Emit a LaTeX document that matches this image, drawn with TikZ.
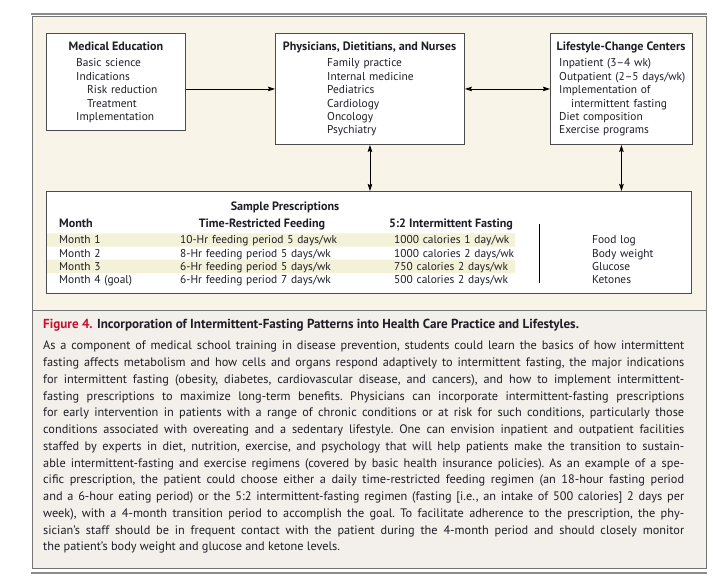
\documentclass[tikz,border=0pt]{standalone}
\usepackage{fontspec}
\setmainfont{PT Sans}
\usetikzlibrary{arrows.meta,positioning,calc}
\definecolor{framegray}{HTML}{747474}
\definecolor{cream}{HTML}{F8F5E8}
\definecolor{capfill}{HTML}{F3EFEA}
\definecolor{band}{HTML}{F3F1D8}
\definecolor{nejmred}{HTML}{C8102E}
\definecolor{ink}{HTML}{1E1E26}

\begin{document}
\begin{tikzpicture}[x=1pt, y=-1pt, font=\fontsize{11.4}{13.4}\selectfont, text=ink,
  >={Stealth[length=7pt, width=4.5pt, inset=1pt]},
  box/.style={draw=black!70, line width=0.9pt, fill=white, inner sep=0pt, anchor=north west},
  hd/.style={font=\fontsize{12.1}{13.4}\selectfont\bfseries, anchor=base, inner sep=0pt},
  lst/.style={align=left, text width=150, anchor=base west, inner sep=0pt},
  tbl/.style={lst, text width=200, font=\fontsize{11.4}{13.1}\selectfont},
  captxt/.style={anchor=base west, inner sep=0pt, font=\fontsize{12.3}{16.75}\selectfont},
  link/.style={line width=0.8pt}]
\useasboundingbox (0,0) rectangle (713,588);
\fill[cream] (32,17) rectangle (706,310.5);
\fill[capfill] (32,310.5) rectangle (706,568);
\draw[framegray, line width=1pt] (32,17) rectangle (706,568) (32,310.5) -- (706,310.5);
\draw[black!45, line width=2pt] (31,14) -- (707,14) (31,573) -- (707,573);
\node[box, minimum width=139, minimum height=97] (med) at (46,33) {};
\node[box, minimum width=189, minimum height=111] (phys) at (275,33) {};
\node[box, minimum width=142, minimum height=111] (life) at (550,33) {};
\node[box, minimum width=645, minimum height=102] (rx) at (46,191) {};
\node[hd] (medT) at (116,51) {Medical Education};
\node[lst] (medL) at (76,67) {Basic science\\Indications\\\hspace*{11pt}Risk reduction\\\hspace*{11pt}Treatment\\Implementation};
\node[hd] (physT) at (369.5,51) {Physicians, Dietitians, and Nurses};
\node[lst] (physL) at (327,67) {Family practice\\Internal medicine\\Pediatrics\\Cardiology\\Oncology\\Psychiatry};
\node[hd] (lifeT) at (621,51) {Lifestyle-Change Centers};
\node[lst] (lifeL) at (559,67) {Inpatient (3–4 wk)\\Outpatient (2–5 days/wk)\\Implementation of\\\hspace*{12pt}intermittent fasting\\Diet composition\\Exercise programs};
\draw[->, link] (med.east |- phys.west) -- (phys.west);
\draw[<->, link] (phys.east) -- (life.west);
\draw[<->, link] (phys.south) -- (phys.south |- rx.north);
\draw[<->, link] (life.south) -- (life.south |- rx.north);
\fill[band] (47,233.3) rectangle (515,246.7) (47,259.7) rectangle (515,273);
\node[hd] (rxT) at (285,211) {Sample Prescriptions};
\node[hd, anchor=base west] (monH) at (59,228) {Month};
\node[hd] (trfH) at (262,228) {Time-Restricted Feeding};
\node[hd] (ifH) at (451,228) {5:2 Intermittent Fasting};
\node[tbl] (monL) at (59,244) {Month 1\\Month 2\\Month 3\\Month 4 (goal)};
\node[tbl] (trfL) at (180,244) {10-Hr feeding period 5 days/wk\\8-Hr feeding period 5 days/wk\\6-Hr feeding period 5 days/wk\\6-Hr feeding period 7 days/wk};
\node[tbl] (ifL) at (394,244) {1000 calories 1 day/wk\\1000 calories 2 days/wk\\750 calories 2 days/wk\\500 calories 2 days/wk};
\draw[line width=0.9pt] (539,224) -- (539,283);
\node[tbl] (chkL) at (592,244) {Food log\\Body weight\\Glucose\\Ketones};
\node[captxt, font=\fontsize{13.1}{16.75}\selectfont\bfseries] (capT) at (43,329) {\textcolor{nejmred}{Figure 4.} Incorporation of Intermittent-Fasting Patterns into Health Care Practice and Lifestyles.};
\node[captxt, text width=641, align=justify] (capB) at (43,350) {\tolerance=10000\frenchspacing
As a component of medical school training in disease prevention, students could learn the basics of how intermittent\linebreak
fasting affects metabolism and how cells and organs respond adaptively to intermittent fasting, the major indications\linebreak
for intermittent fasting (obesity, diabetes, cardiovascular disease, and cancers), and how to implement intermittent-\linebreak
fasting prescriptions to maximize long-term benefits. Physicians can incorporate intermittent-fasting prescriptions\linebreak
for early intervention in patients with a range of chronic conditions or at risk for such conditions, particularly those\linebreak
conditions associated with overeating and a sedentary lifestyle. One can envision inpatient and outpatient facilities\linebreak
staffed by experts in diet, nutrition, exercise, and psychology that will help patients make the transition to sustain-\linebreak
able intermittent-fasting and exercise regimens (covered by basic health insurance policies). As an example of a spe-\linebreak
cific prescription, the patient could choose either a daily time-restricted feeding regimen (an 18-hour fasting period\linebreak
and a 6-hour eating period) or the 5:2 intermittent-fasting regimen (fasting [i.e., an intake of 500 calories] 2 days per\linebreak
week), with a 4-month transition period to accomplish the goal. To facilitate adherence to the prescription, the phy-\linebreak
sician's staff should be in frequent contact with the patient during the 4-month period and should closely monitor\linebreak
the patient's body weight and glucose and ketone levels.};
\end{tikzpicture}
\end{document}
